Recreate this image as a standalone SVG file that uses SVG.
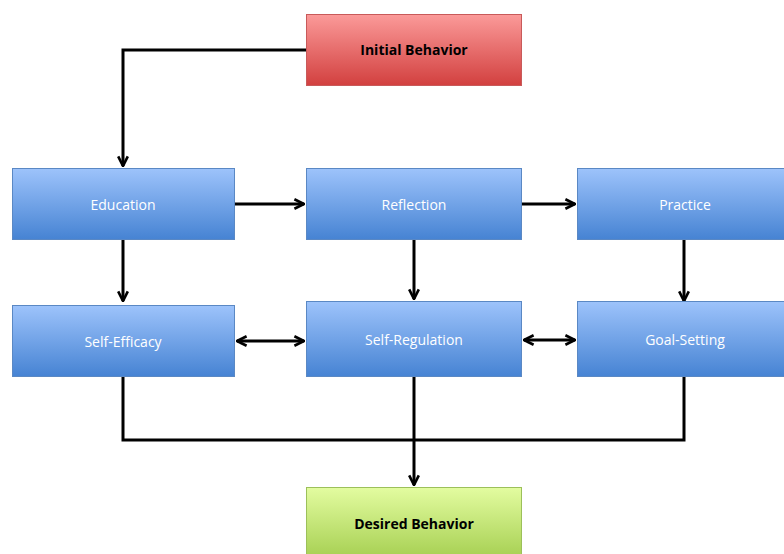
<svg xmlns="http://www.w3.org/2000/svg" width="784" height="554" viewBox="0 0 784 554">
<defs>
<linearGradient id="gBlue" x1="0" y1="0" x2="0" y2="1">
<stop offset="0" stop-color="#9dc3fb"/>
<stop offset="1" stop-color="#4683d3"/>
</linearGradient>
<linearGradient id="gRed" x1="0" y1="0" x2="0" y2="1">
<stop offset="0" stop-color="#fb9a99"/>
<stop offset="1" stop-color="#d2403f"/>
</linearGradient>
<linearGradient id="gGreen" x1="0" y1="0" x2="0" y2="1">
<stop offset="0" stop-color="#e3fca0"/>
<stop offset="1" stop-color="#a7d053"/>
</linearGradient>
<marker id="arr" viewBox="0 0 10 10" refX="9" refY="5" markerWidth="4" markerHeight="4" orient="auto-start-reverse" markerUnits="strokeWidth">
<path d="M1,1 L9,5 L1,9" fill="none" stroke="#000" stroke-width="2.2"/>
</marker>
<style>
.blue{fill:url(#gBlue);stroke:#5a88c4;stroke-width:1}
.red{fill:url(#gRed);stroke:#c85a5a;stroke-width:1}
.green{fill:url(#gGreen);stroke:#9cc05a;stroke-width:1}
.wt{font-family:"Open Sans","Liberation Sans",sans-serif;font-size:14px;fill:#fff;text-anchor:middle}
.bt{font-family:"Open Sans","Liberation Sans",sans-serif;font-size:14px;font-weight:bold;fill:#000;text-anchor:middle}
.ln{fill:none;stroke:#000;stroke-width:3}
</style>
</defs>
<g id="connectors">
<path class="ln" d="M306,50 H123 V166" marker-end="url(#arr)"/>
<path class="ln" d="M235,204 H304" marker-end="url(#arr)"/>
<path class="ln" d="M522,204 H575" marker-end="url(#arr)"/>
<path class="ln" d="M123,240 V301" marker-end="url(#arr)"/>
<path class="ln" d="M414,240 V299" marker-end="url(#arr)"/>
<path class="ln" d="M684,240 V301" marker-end="url(#arr)"/>
<path class="ln" d="M237,341 H304" marker-start="url(#arr)" marker-end="url(#arr)"/>
<path class="ln" d="M524,340 H575" marker-start="url(#arr)" marker-end="url(#arr)"/>
<path class="ln" d="M123,377 V440 H684 V377"/>
<path class="ln" d="M414,377 V485" marker-end="url(#arr)"/>
</g>
<g id="initial"><rect class="red" x="306.5" y="14.5" width="215" height="71"/><text class="bt" x="414" y="55">Initial Behavior</text></g>
<g id="education"><rect class="blue" x="12.5" y="168.5" width="222" height="71"/><text class="wt" x="123" y="210">Education</text></g>
<g id="reflection"><rect class="blue" x="306.5" y="168.5" width="215" height="71"/><text class="wt" x="414" y="210">Reflection</text></g>
<g id="practice"><rect class="blue" x="577.5" y="168.5" width="210" height="71"/><text class="wt" x="685" y="210">Practice</text></g>
<g id="selfefficacy"><rect class="blue" x="12.5" y="305.5" width="222" height="71"/><text class="wt" x="123" y="347">Self-Efficacy</text></g>
<g id="selfregulation"><rect class="blue" x="306.5" y="301.5" width="215" height="75"/><text class="wt" x="414" y="345">Self-Regulation</text></g>
<g id="goalsetting"><rect class="blue" x="577.5" y="301.5" width="210" height="75"/><text class="wt" x="685" y="345">Goal-Setting</text></g>
<g id="desired"><rect class="green" x="306.5" y="487.5" width="215" height="70"/><text class="bt" x="414" y="529">Desired Behavior</text></g>
</svg>
